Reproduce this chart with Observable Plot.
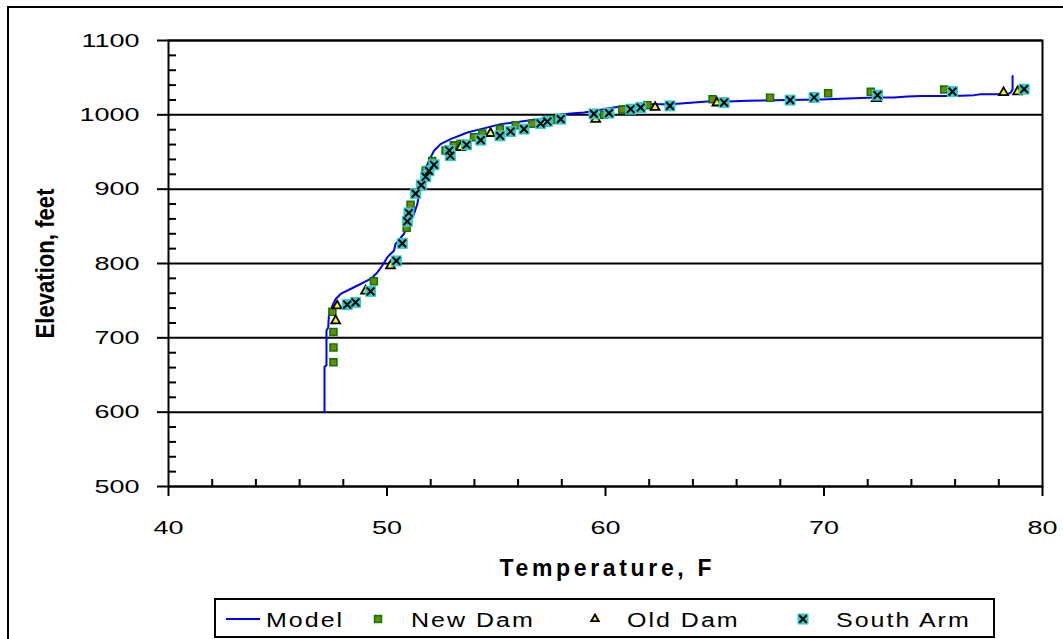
<!DOCTYPE html>
<html><head><meta charset="utf-8">
<script src="https://cdn.jsdelivr.net/npm/d3@7"></script>
<script src="https://cdn.jsdelivr.net/npm/@observablehq/plot@0.6"></script>
<style>
body{margin:0;background:#fff;font-family:"Liberation Sans",Arial,sans-serif;}
#wrap{position:relative;width:1063px;height:639px;overflow:hidden;background:#fff;}
#outer{position:absolute;left:7px;top:6px;width:1120px;height:720px;border:2px solid #000;box-sizing:border-box;}
#chart{position:absolute;left:0;top:0;}
#legend{position:absolute;left:214px;top:598px;width:781px;height:40px;border:2px solid #000;box-sizing:border-box;background:#fff;}
.lbl{position:absolute;top:9px;font-size:20px;letter-spacing:1.6px;transform:scaleX(1.25);transform-origin:0 0;white-space:nowrap;color:#000;}
.ico{position:absolute;top:1px;}
</style></head><body>
<div id="wrap"><div id="outer"></div><div id="chart"></div><div id="legend"></div></div>
<script>
// ---- data ----
const xTicks = [40, 50, 60, 70, 80];
const xMinor = [42, 44, 46, 48, 52, 54, 56, 58, 62, 64, 66, 68, 72, 74, 76, 78];
const yTicks = [500, 600, 700, 800, 900, 1000, 1100];
const yMinor = [520, 540, 560, 580, 620, 640, 660, 680, 720, 740, 760, 780, 820, 840, 860, 880, 920, 940, 960, 980, 1020, 1040, 1060, 1080];

const seriesNames = ["Model", "New Dam", "Old Dam", "South Arm"];

const modelTemp = [47.14, 47.14, 47.23, 47.23, 47.31, 47.34, 47.50, 47.65, 47.88, 48.33, 48.79, 49.25, 49.56, 49.78, 50.01, 50.16, 50.32, 50.39, 50.77, 51.00, 51.23, 51.39, 51.46, 51.54, 51.69, 51.92, 52.15, 52.45, 52.91, 53.68, 54.29, 55.20, 55.81, 56.88, 57.64, 58.00, 58.42, 59.03, 59.60, 60.39, 61.00, 61.92, 62.99, 64.05, 64.67, 65.58, 66.50, 68.33, 69.85, 71.08, 72.29, 73.21, 73.82, 74.43, 75.96, 76.87, 77.18, 78.40, 78.55, 78.63, 78.63];
const modelElev = [600, 661, 663, 709.7, 714, 729.8, 743.3, 752.3, 759, 765.7, 772.4, 779.2, 788, 797, 808.2, 812.8, 817.2, 826.2, 839.7, 853.1, 866.5, 880, 893.4, 906.9, 922.4, 938.2, 951.6, 960.6, 967.3, 976.2, 980.8, 987.5, 989.7, 994.2, 997.3, 1000.5, 1001.7, 1003.1, 1006, 1009.8, 1012.1, 1014.4, 1014.4, 1016.5, 1017.9, 1017.9, 1018.8, 1019.8, 1020.6, 1021.9, 1023.3, 1023.3, 1024.6, 1025.5, 1025.5, 1026.5, 1027.8, 1027.8, 1030, 1034.5, 1052.4];

const newDamTemp = [47.5, 47.55, 47.55, 47.55, 49.4, 50.9, 51.08, 51.77, 52.07, 52.68, 53.06, 53.37, 53.98, 54.36, 55.17, 55.89, 56.65, 57.52, 59.93, 60.77, 61.92, 64.9, 67.53, 70.19, 72.14, 75.5, 79.1];
const newDamElev = [735, 708, 687, 667, 776, 848, 879, 925, 938, 952, 959, 961, 970, 975, 981, 986, 988, 993, 1000, 1007, 1013, 1021, 1023, 1029, 1031, 1034, 1035];

const oldDamTemp = [47.65, 47.72, 49.02, 50.16, 53.37, 54.74, 59.55, 62.27, 65.1, 72.4, 78.22, 78.86];
const oldDamElev = [723, 743, 763, 797, 956, 975, 994, 1010, 1016, 1022, 1030, 1031];

const southArmTemp = [48.18, 48.56, 49.25, 50.43, 50.7, 50.93, 51.0, 51.31, 51.57, 51.77, 51.92, 52.15, 52.85, 52.9, 53.64, 54.29, 55.17, 55.66, 56.27, 57.03, 57.34, 57.95, 59.47, 60.16, 61.15, 61.61, 62.95, 65.43, 68.45, 69.55, 72.45, 75.88, 79.16];
const southArmElev = [744.6, 747.7, 762.5, 803.5, 827, 856.6, 868, 894, 905.5, 916.7, 924.7, 932.8, 952, 945, 959.7, 966, 971.8, 977.6, 980.8, 988.3, 991, 994.2, 1001.3, 1002.3, 1007.6, 1009.8, 1012.1, 1016.5, 1019.8, 1023.3, 1026.5, 1031.3, 1034.5];

const zip = (xs, ys) => xs.map((x, i) => ({x, y: ys[i]}));
const model = zip(modelTemp, modelElev);
const newDam = zip(newDamTemp, newDamElev);
const oldDam = zip(oldDamTemp, oldDamElev);
const southArm = zip(southArmTemp, southArmElev);

const FONT = "'Liberation Sans', Arial, sans-serif";

const chart = Plot.plot({
  width: 1063, height: 595,
  marginLeft: 168, marginRight: 21, marginTop: 40, marginBottom: 109,
  x: {domain: [40, 80], axis: null},
  y: {domain: [500, 1100], axis: null},
  style: {fontFamily: FONT, background: "transparent", overflow: "visible", color: "#000"},
  marks: [
    Plot.gridY(yTicks, {stroke: "#000", strokeOpacity: 1, strokeWidth: 2}),
    Plot.frame({stroke: "#000", strokeWidth: 2}),
    Plot.axisX(xTicks, {tickSize: 10, tickPadding: 24, fontSize: 19, stroke: "#000", strokeWidth: 2, tickFormat: d => String(d), label: null}),
    Plot.axisX(xMinor, {tickSize: -7, stroke: "#000", strokeWidth: 2, tickFormat: () => "", label: null}),
    Plot.axisY(yTicks, {tickSize: 11, tickPadding: 18, fontSize: 19, stroke: "#000", strokeWidth: 2, tickFormat: d => String(d), label: null}),
    Plot.axisY(yMinor, {tickSize: -8, stroke: "#000", strokeWidth: 2, tickFormat: () => "", label: null}),
    Plot.line(model, {x: "x", y: "y", stroke: "#0000ff", strokeWidth: 2}),
    Plot.dot(newDam, {x: "x", y: "y", symbol: "square", r: 3.9, fill: "#808000", stroke: "#008000", strokeWidth: 1.6}),
    Plot.dot(oldDam, {x: "x", y: "y", symbol: "triangle", r: 3.3, fill: "#ffff00", stroke: "#000", strokeWidth: 1.8}),
    Plot.dot(southArm, {x: "x", y: "y", symbol: "square", r: 6.2, fill: "#33cccc"}),
    Plot.dot(southArm, {x: "x", y: "y", symbol: "times", r: 3.6, stroke: "#000", strokeWidth: 2}),
    Plot.text(["Temperature, F"], {frameAnchor: "bottom", dy: 82, lineAnchor: "middle", fontSize: 23, fontWeight: "bold", textAnchor: "middle"}),
    Plot.text(["Elevation, feet"], {frameAnchor: "left", dx: -123, rotate: -90, lineAnchor: "middle", fontSize: 25, fontWeight: "bold", textAnchor: "middle"})
  ]
});
document.getElementById("chart").appendChild(chart);

// widen / narrow text along its baseline to mimic the reference's stretched lettering
d3.select(chart).selectAll("text").each(function () {
  const txt = this.textContent.trim();
  if (!txt) return;
  const w = this.getComputedTextLength();
  let target, mode = "spacingAndGlyphs";
  if (txt === "Temperature, F") { target = 212; mode = "spacing"; }
  else if (txt === "Elevation, feet") target = 150;
  else target = w * 1.42;
  this.setAttribute("textLength", target);
  this.setAttribute("lengthAdjust", mode);
});

// ---- legend ----
const legend = document.getElementById("legend");
const items = [
  {name: seriesNames[0], icon: 10, text: 50, svg: '<svg width="36" height="36"><line x1="0" y1="18" x2="34" y2="18" stroke="#0000ff" stroke-width="2"/></svg>'},
  {name: seriesNames[1], icon: 152, text: 195, svg: '<svg width="20" height="36"><rect x="6.6" y="14.6" width="6.8" height="6.8" fill="#808000" stroke="#008000" stroke-width="1.6"/></svg>'},
  {name: seriesNames[2], icon: 369, text: 411, svg: '<svg width="20" height="36"><path d="M10,13.5L13.8,20.2L6.2,20.2Z" fill="#ffff00" stroke="#000" stroke-width="1.8"/></svg>'},
  {name: seriesNames[3], icon: 577, text: 620, svg: '<svg width="20" height="36"><rect x="4.5" y="12.5" width="11" height="11" fill="#33cccc"/><path d="M6.3,14.3L13.7,21.7M13.7,14.3L6.3,21.7" stroke="#000" stroke-width="2"/></svg>'}
];
for (const it of items) {
  const ico = document.createElement("div");
  ico.className = "ico";
  ico.style.left = it.icon + "px";
  ico.innerHTML = it.svg;
  legend.appendChild(ico);
  const lbl = document.createElement("div");
  lbl.className = "lbl";
  lbl.style.left = it.text + "px";
  lbl.textContent = it.name;
  legend.appendChild(lbl);
}
</script>
</body></html>
